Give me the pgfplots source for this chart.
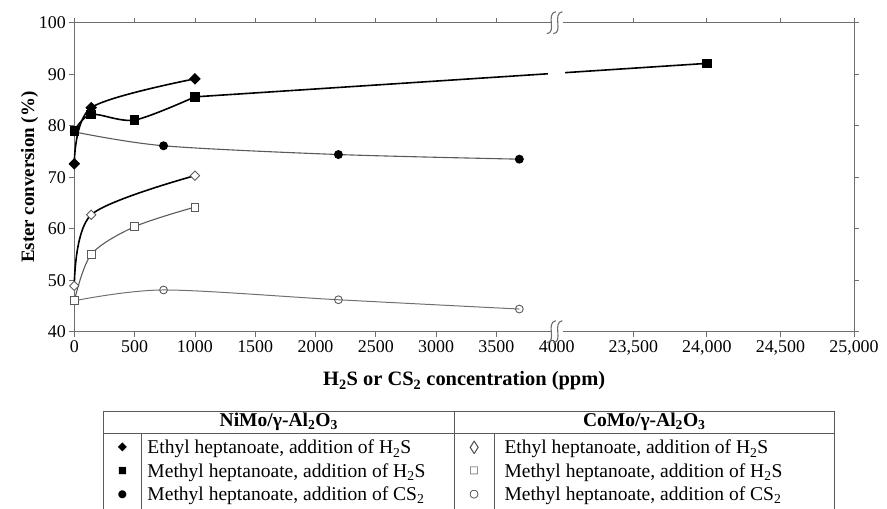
\documentclass[border=0pt]{standalone}
\usepackage{fontspec}
\setmainfont{Liberation Serif}
\newfontfamily\dejavu{DejaVu Sans}
\usepackage{pgfplots}
\pgfplotsset{compat=1.18}
\definecolor{axgray}{HTML}{6E6E6E}
\definecolor{lgray}{HTML}{5A5A5A}
\definecolor{cgray}{HTML}{707070}
\begin{document}
\begin{tikzpicture}[x=1bp,y=1bp]
\path[use as bounding box] (-74.3,-177.3) rectangle (812.7,331.7);
\begin{axis}[
 scale only axis, width=779.7bp, height=309bp,
 xmin=0, xmax=6465, ymin=40, ymax=100,
 xtick={0,500,1000,1500,2000,2500,3000,3500,4635,5245,5855,6465},
 xticklabels={0,500,1000,1500,2000,2500,3000,3500,{23,500},{24,000},{24,500},{25,000}},
 extra x ticks={4000}, extra x tick labels={4000},
 extra x tick style={major tick style={draw=none}},
 ytick={40,50,...,100},
 tick align=outside, major tick length=5bp,
 tick style={axgray, line width=0.8bp},
 axis line style={axgray, line width=0.9bp},
 ticklabel style={font=\fontsize{18}{20}\selectfont},
 /pgf/number format/assume math mode=true,
 xlabel={\textbf{H\textsubscript{2}S or CS\textsubscript{2} concentration (ppm)}},
 ylabel={\textbf{Ester conversion (\%)}},
 xlabel style={font=\fontsize{20.5}{23}\selectfont},
 ylabel style={font=\fontsize{19}{22}\selectfont},
 ylabel shift=-6bp,
 clip=false,
]
% NiMo, methyl heptanoate, CS2
\addplot[lgray, line width=1.1bp, smooth, mark=*, mark size=3.9bp, mark options={fill=black, draw=black}]
 coordinates {(0,78.8) (740,76.1) (2190,74.4) (3690,73.5)};
% NiMo, methyl heptanoate, H2S (long segment to 24,000 ppm)
\addplot[black, line width=1.6bp, smooth, mark=square*, mark size=3.9bp, mark options={fill=black}]
 coordinates {(1000,85.6) (5245,92.1)};
% NiMo, methyl heptanoate, H2S
\addplot[black, line width=1.6bp, smooth, mark=square*, mark size=3.9bp, mark options={fill=black}]
 coordinates {(0,79.0) (140,82.2) (500,81.1) (1000,85.6)};
% NiMo, ethyl heptanoate, H2S
\addplot[black, line width=1.6bp, smooth, mark=square*, mark size=3.3bp, mark options={fill=black, rotate=45}]
 coordinates {(0,72.6) (140,83.5) (1000,89.1)};
% CoMo, methyl heptanoate, CS2
\addplot[cgray, line width=1.0bp, smooth, mark=o, mark size=3.9bp, mark options={fill=white, draw=lgray, line width=0.9bp}]
 coordinates {(0,46.0) (740,48.1) (2190,46.2) (3690,44.4)};
% CoMo, methyl heptanoate, H2S
\addplot[lgray, line width=1.1bp, smooth, mark=square*, mark size=3.9bp, mark options={fill=white, draw=lgray, line width=0.9bp}]
 coordinates {(0,46.0) (140,55.0) (500,60.4) (1000,64.2)};
% CoMo, ethyl heptanoate, H2S
\addplot[black, line width=1.6bp, smooth, mark=square*, mark size=3.3bp, mark options={fill=white, draw=lgray, line width=0.9bp, rotate=45}]
 coordinates {(0,48.9) (140,62.7) (1000,70.3)};
\end{axis}
% gap in the curve at the axis break
\fill[white] (473.9,252) rectangle (491.1,268);
% axis breaks
\foreach \yy in {0,309}{
 \fill[white] (477,\yy-3) rectangle (489,\yy+3);
 \draw[axgray, line width=1.1bp] (472.5,\yy-11) .. controls (483,\yy-10) and (471,\yy+9) .. (481.5,\yy+11);
 \draw[axgray, line width=1.1bp] (479,\yy-11) .. controls (489.5,\yy-10) and (477.5,\yy+9) .. (488,\yy+11);
}
% legend table
\begin{scope}[draw=black!65, line width=0.8bp]
 \draw (29,-177.3) -- (29,-79.3) -- (760,-79.3) -- (760,-177.3);
 \draw (29,-101.6) -- (760,-101.6);
 \draw (380,-79.3) -- (380,-177.3);
 \draw (67.4,-101.6) -- (67.4,-177.3);
 \draw (419.7,-101.6) -- (419.7,-177.3);
\end{scope}
\node[font=\fontsize{19.6}{22}\selectfont\bfseries] at (204.5,-90.5) {NiMo/γ-Al\textsubscript{2}O\textsubscript{3}};
\node[font=\fontsize{19.6}{22}\selectfont\bfseries] at (570,-90.5) {CoMo/γ-Al\textsubscript{2}O\textsubscript{3}};
\begin{scope}[every node/.style={font=\fontsize{19.6}{22}\selectfont, anchor=base west, inner sep=0pt}]
 \node at (73,-122.3) {Ethyl heptanoate, addition of H\textsubscript{2}S};
 \node at (73,-145.6) {Methyl heptanoate, addition of H\textsubscript{2}S};
 \node at (73,-168.9) {Methyl heptanoate, addition of CS\textsubscript{2}};
 \node at (430,-122.3) {Ethyl heptanoate, addition of H\textsubscript{2}S};
 \node at (430,-145.6) {Methyl heptanoate, addition of H\textsubscript{2}S};
 \node at (430,-168.9) {Methyl heptanoate, addition of CS\textsubscript{2}};
\end{scope}
\node[font=\dejavu\fontsize{12}{12}\selectfont, inner sep=0pt] at (48.2,-116) {◆};
\node[font=\dejavu\fontsize{9.5}{10}\selectfont, inner sep=0pt] at (48.2,-139.3) {■};
\node[font=\dejavu\fontsize{10.5}{11}\selectfont, inner sep=0pt] at (48.2,-162.6) {●};
\node[font=\fontsize{19}{19}\selectfont, inner sep=0pt, text=black!75] at (399.9,-116) {◊};
\node[font=\dejavu\fontsize{10}{10}\selectfont, inner sep=0pt, text=black!75] at (399.9,-139.3) {□};
\node[font=\dejavu\bfseries\fontsize{11}{11}\selectfont, inner sep=0pt] at (399.9,-162.6) {○};
\end{tikzpicture}
\end{document}
